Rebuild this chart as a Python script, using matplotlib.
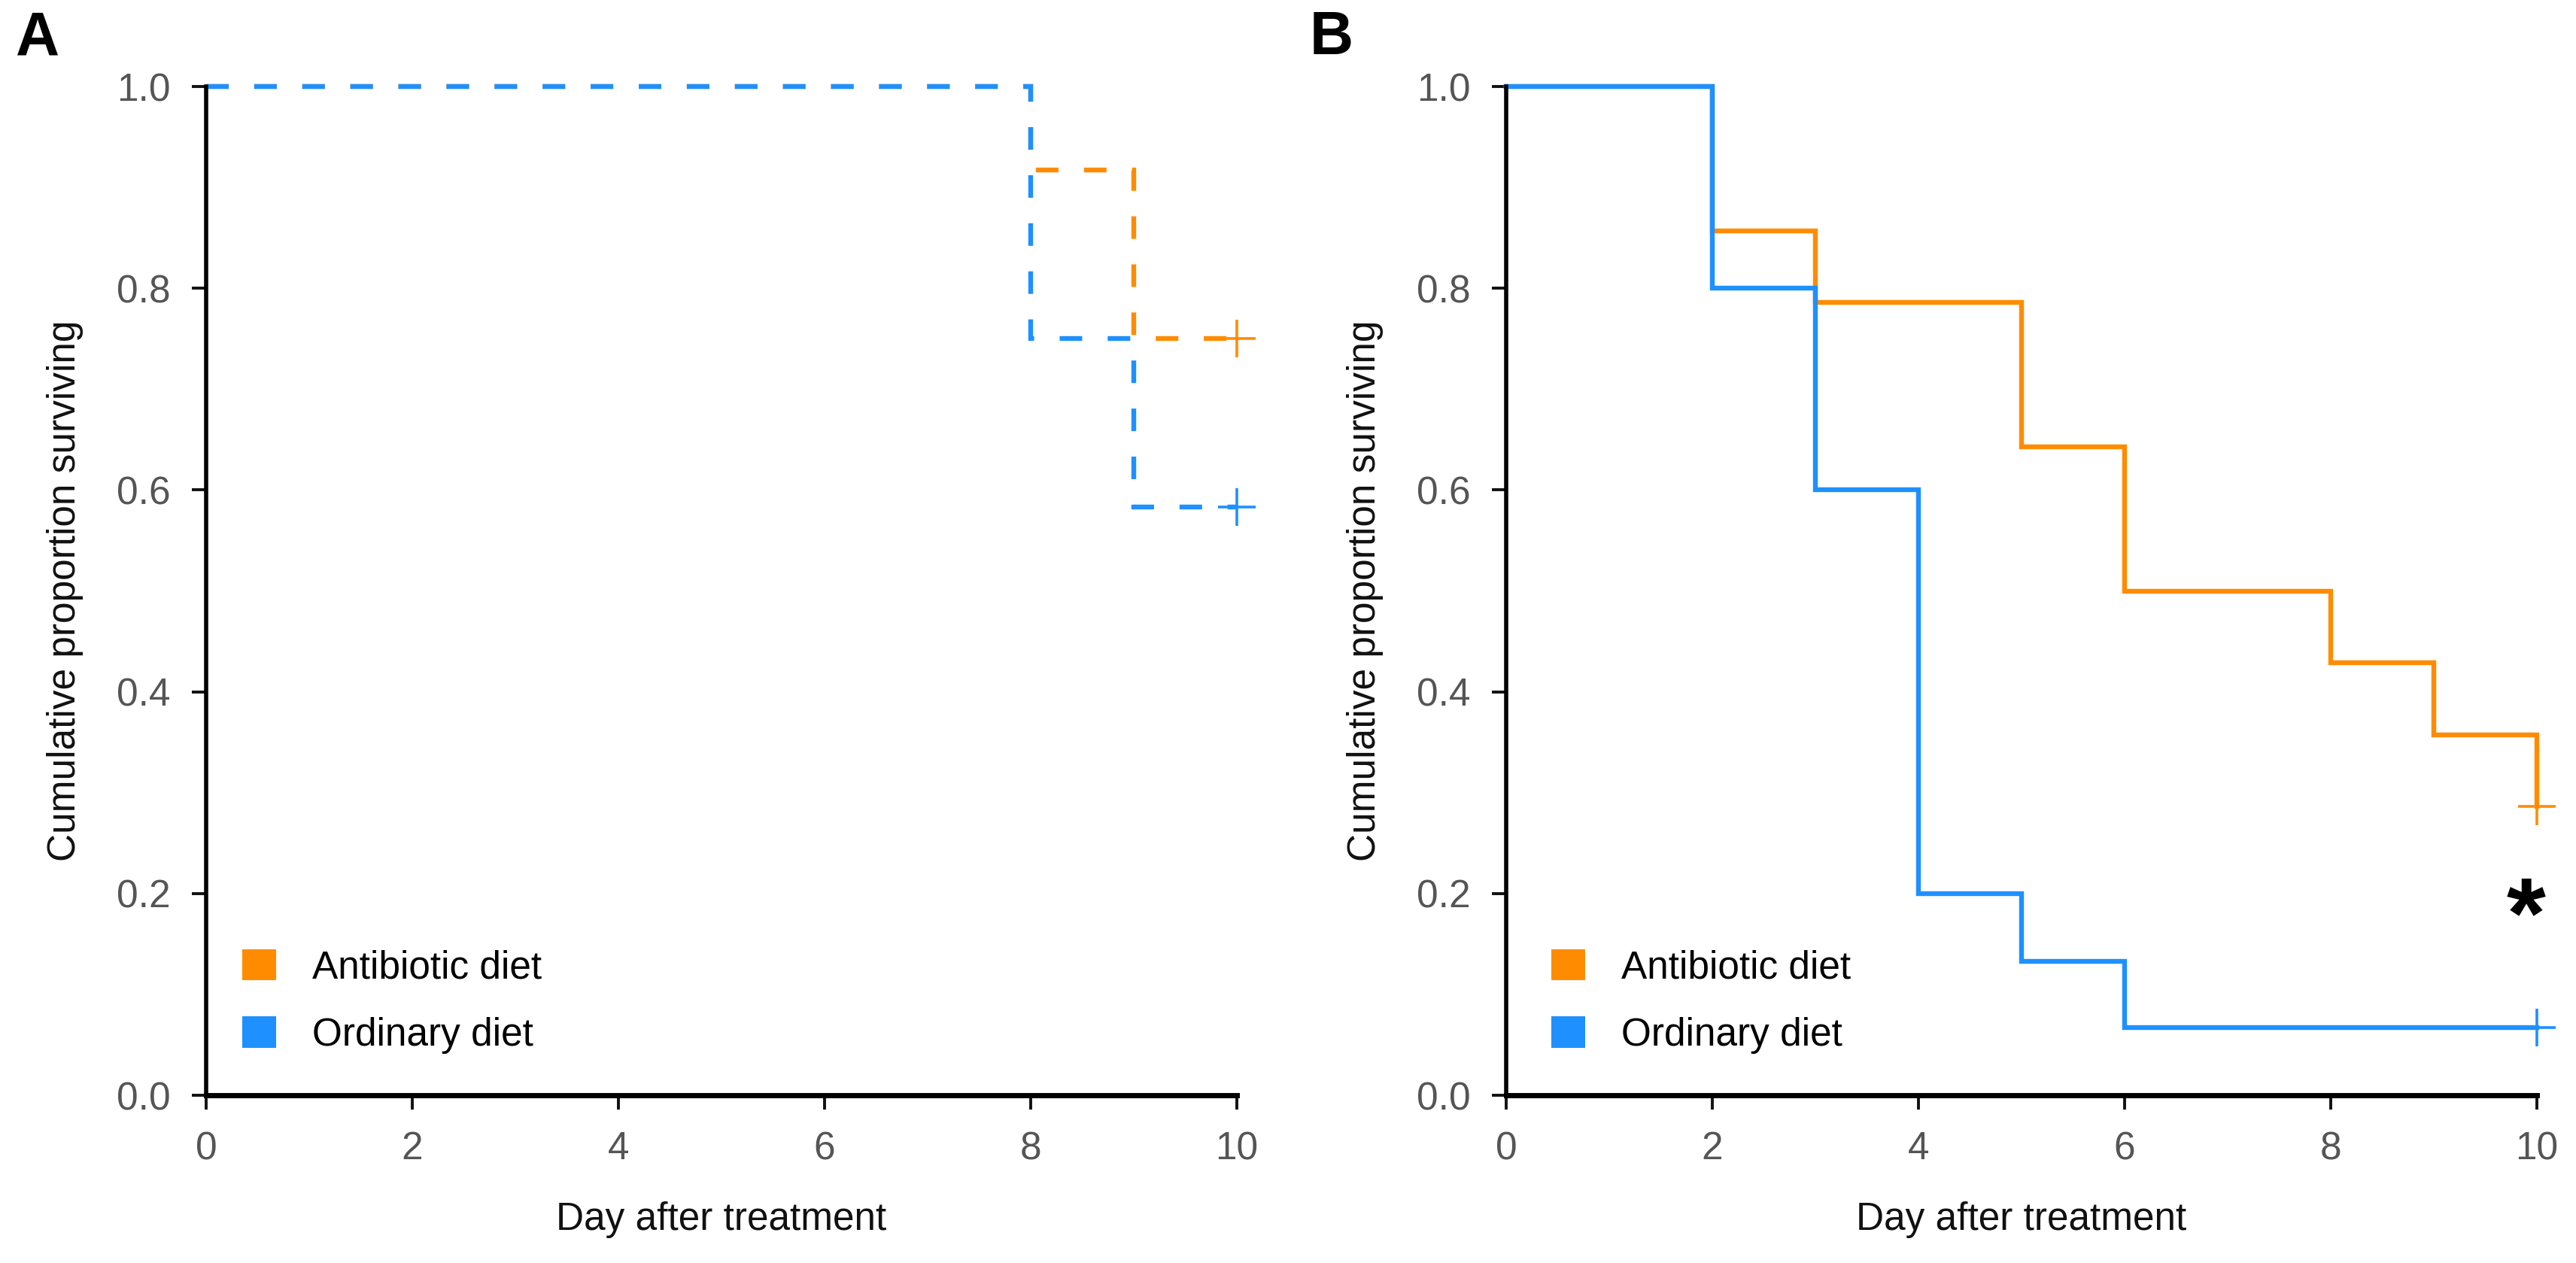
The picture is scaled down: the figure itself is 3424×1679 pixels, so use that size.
import matplotlib
matplotlib.use("Agg")
import matplotlib.pyplot as plt
from matplotlib.patches import Patch

plt.rcParams['font.family'] = ['Liberation Sans', 'DejaVu Sans']

# panel A (dashed)
daysA_anti = [0, 8, 9, 10]
survA_anti = [1.0, 0.917, 0.75, 0.75]
daysA_ord = [0, 8, 9, 10]
survA_ord = [1.0, 0.75, 0.583, 0.583]

# panel B (solid)
daysB_anti = [0, 2, 3, 5, 6, 8, 9, 10]
survB_anti = [1.0, 0.857, 0.786, 0.643, 0.5, 0.429, 0.357, 0.286]
daysB_ord = [0, 2, 3, 4, 5, 6, 10]
survB_ord = [1.0, 0.8, 0.6, 0.2, 0.133, 0.067, 0.067]

groups = ["Antibiotic diet", "Ordinary diet"]
colors = ["darkorange", "dodgerblue"]
xticks = [0, 2, 4, 6, 8, 10]
yticks = [0.0, 0.2, 0.4, 0.6, 0.8, 1.0]

LW = 2.3
FS = 18.5


def styleAxis(ax):
    ax.set_xlim(0, 10)
    ax.set_ylim(0, 1)
    ax.spines['top'].set_visible(False)
    ax.spines['right'].set_visible(False)
    ax.spines['left'].set_linewidth(2.0)
    ax.spines['bottom'].set_linewidth(2.5)
    ax.spines['left'].set_bounds(0, 1)
    ax.spines['bottom'].set_bounds(0, 10)
    ax.set_xticks(xticks)
    ax.set_xticklabels([str(t) for t in xticks])
    ax.set_yticks(yticks)
    ax.set_yticklabels([f"{t:.1f}" for t in yticks])
    ax.tick_params(direction='out', length=7, width=1.4, pad=10,
                   labelsize=FS, labelcolor='#555555', color='#111111')
    ax.set_xlabel("Day after treatment", fontsize=FS, color='#111111', labelpad=16)
    ax.set_ylabel("Cumulative proportion surviving", fontsize=FS, color='#111111', labelpad=16)


def drawCurve(ax, days, surv, color, ls):
    ax.step(days, surv, where='post', color=color, lw=LW, ls=ls, clip_on=False,
            solid_joinstyle='miter', dash_joinstyle='miter')
    ax.plot([days[-1]], [surv[-1]], marker='+', ms=18, mew=1.3, color=color,
            ls='none', clip_on=False)


def addLegend(ax, xpos):
    handles = [Patch(facecolor=c, edgecolor='none') for c in colors]
    ax.legend(handles, groups, loc='center left', bbox_to_anchor=(xpos, 0.093),
              frameon=False, fontsize=FS, borderpad=0, borderaxespad=0,
              handlelength=0.875, handleheight=0.86, handletextpad=0.93,
              labelspacing=0.78)


fig = plt.figure(figsize=(17.12, 8.395), dpi=200)
axA = fig.add_axes([0.080, 0.1328, 0.400, 0.7987])
axB = fig.add_axes([0.5847, 0.1328, 0.400, 0.7987])

dashed = (0, (4.7, 5.3))
drawCurve(axA, daysA_anti, survA_anti, colors[0], dashed)
drawCurve(axA, daysA_ord, survA_ord, colors[1], dashed)
styleAxis(axA)
addLegend(axA, 0.035)

drawCurve(axB, daysB_anti, survB_anti, colors[0], '-')
drawCurve(axB, daysB_ord, survB_ord, colors[1], '-')
styleAxis(axB)
addLegend(axB, 0.044)

# significance mark
axB.text(0.99, 0.147, "*", transform=axB.transAxes, ha='center', va='baseline',
         fontsize=48, fontweight='bold', color='black')

fig.text(0.006, 0.992, "A", fontsize=29, fontweight='bold', va='top', ha='left')
fig.text(0.5085, 0.992, "B", fontsize=29, fontweight='bold', va='top', ha='left')

fig.savefig("out.png", dpi=200, facecolor='white')
